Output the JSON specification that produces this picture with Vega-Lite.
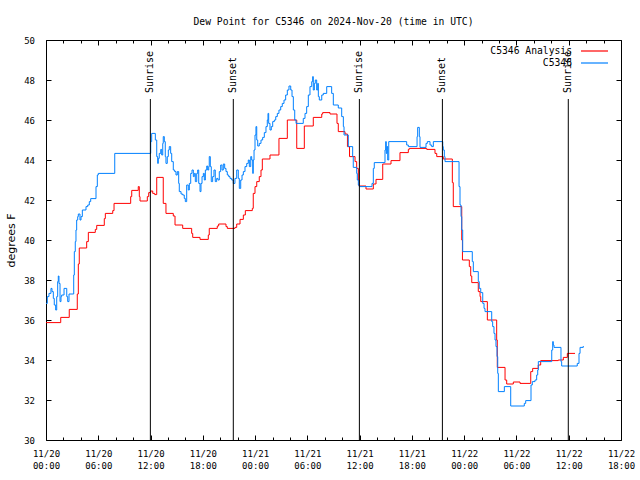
{
"$schema": "https://vega.github.io/schema/vega-lite/v6.json",
"width": 575, "height": 400,
"autosize": {"type": "none"},
"padding": {"left": 46, "top": 40, "right": 19, "bottom": 40},
"background": "white",
"title": {"text": "Dew Point for C5346 on 2024-Nov-20 (time in UTC)", "font": "DejaVu Sans Mono", "fontSize": 9.7, "fontWeight": "normal", "color": "black", "anchor": "middle", "frame": "group", "baseline": "alphabetic", "offset": 1},
"config": {
  "view": {"stroke": "black", "strokeWidth": 1},
  "axis": {"grid": false, "domain": false, "tickColor": "black", "labelColor": "black", "labelFont": "DejaVu Sans Mono", "labelFontSize": 9, "tickWidth": 1}
},
"datasets": {
"analysis": [
{"hour":0,"dewpoint":35.87,"series":"C5346 Analysis"},{"hour":1.69,"dewpoint":36.13,"series":"C5346 Analysis"},{"hour":2.67,"dewpoint":36.53,"series":"C5346 Analysis"},{"hour":3.59,"dewpoint":37.3,"series":"C5346 Analysis"},{"hour":3.71,"dewpoint":38.8,"series":"C5346 Analysis"},{"hour":3.82,"dewpoint":39.6,"series":"C5346 Analysis"},{"hour":4.67,"dewpoint":39.92,"series":"C5346 Analysis"},{"hour":4.86,"dewpoint":40.38,"series":"C5346 Analysis"},{"hour":5.66,"dewpoint":40.53,"series":"C5346 Analysis"},{"hour":5.82,"dewpoint":40.73,"series":"C5346 Analysis"},{"hour":6.69,"dewpoint":41.07,"series":"C5346 Analysis"},{"hour":6.81,"dewpoint":41.33,"series":"C5346 Analysis"},{"hour":7.66,"dewpoint":41.47,"series":"C5346 Analysis"},{"hour":7.81,"dewpoint":41.83,"series":"C5346 Analysis"},{"hour":9.72,"dewpoint":42.17,"series":"C5346 Analysis"},{"hour":9.84,"dewpoint":42.48,"series":"C5346 Analysis"},{"hour":10.59,"dewpoint":42.67,"series":"C5346 Analysis"},{"hour":10.71,"dewpoint":42.17,"series":"C5346 Analysis"},{"hour":10.79,"dewpoint":41.95,"series":"C5346 Analysis"},{"hour":11.63,"dewpoint":42.17,"series":"C5346 Analysis"},{"hour":11.79,"dewpoint":42.37,"series":"C5346 Analysis"},{"hour":12.02,"dewpoint":42.45,"series":"C5346 Analysis"},{"hour":12.25,"dewpoint":42.33,"series":"C5346 Analysis"},{"hour":12.48,"dewpoint":42.27,"series":"C5346 Analysis"},{"hour":12.71,"dewpoint":43.13,"series":"C5346 Analysis"},{"hour":13.46,"dewpoint":41.83,"series":"C5346 Analysis"},{"hour":13.77,"dewpoint":41.33,"series":"C5346 Analysis"},{"hour":14.61,"dewpoint":41.2,"series":"C5346 Analysis"},{"hour":14.81,"dewpoint":40.75,"series":"C5346 Analysis"},{"hour":15.69,"dewpoint":40.58,"series":"C5346 Analysis"},{"hour":16.72,"dewpoint":40.33,"series":"C5346 Analysis"},{"hour":16.84,"dewpoint":40.13,"series":"C5346 Analysis"},{"hour":17.68,"dewpoint":40.03,"series":"C5346 Analysis"},{"hour":18.63,"dewpoint":40.25,"series":"C5346 Analysis"},{"hour":18.74,"dewpoint":40.58,"series":"C5346 Analysis"},{"hour":19.66,"dewpoint":40.7,"series":"C5346 Analysis"},{"hour":19.82,"dewpoint":40.8,"series":"C5346 Analysis"},{"hour":20.66,"dewpoint":40.67,"series":"C5346 Analysis"},{"hour":20.81,"dewpoint":40.58,"series":"C5346 Analysis"},{"hour":21.69,"dewpoint":40.63,"series":"C5346 Analysis"},{"hour":21.89,"dewpoint":40.8,"series":"C5346 Analysis"},{"hour":22.27,"dewpoint":41.03,"series":"C5346 Analysis"},{"hour":22.65,"dewpoint":41.25,"series":"C5346 Analysis"},{"hour":22.88,"dewpoint":41.47,"series":"C5346 Analysis"},{"hour":23.68,"dewpoint":41.58,"series":"C5346 Analysis"},{"hour":23.79,"dewpoint":42.33,"series":"C5346 Analysis"},{"hour":23.99,"dewpoint":42.67,"series":"C5346 Analysis"},{"hour":24.19,"dewpoint":42.92,"series":"C5346 Analysis"},{"hour":24.48,"dewpoint":43.17,"series":"C5346 Analysis"},{"hour":24.68,"dewpoint":43.5,"series":"C5346 Analysis"},{"hour":24.83,"dewpoint":44.05,"series":"C5346 Analysis"},{"hour":25.71,"dewpoint":44.25,"series":"C5346 Analysis"},{"hour":26.74,"dewpoint":45.08,"series":"C5346 Analysis"},{"hour":27.7,"dewpoint":46.0,"series":"C5346 Analysis"},{"hour":28.78,"dewpoint":44.58,"series":"C5346 Analysis"},{"hour":29.65,"dewpoint":45.7,"series":"C5346 Analysis"},{"hour":30.68,"dewpoint":46.13,"series":"C5346 Analysis"},{"hour":31.65,"dewpoint":46.3,"series":"C5346 Analysis"},{"hour":31.76,"dewpoint":46.37,"series":"C5346 Analysis"},{"hour":32.6,"dewpoint":46.3,"series":"C5346 Analysis"},{"hour":33.4,"dewpoint":45.83,"series":"C5346 Analysis"},{"hour":33.55,"dewpoint":45.42,"series":"C5346 Analysis"},{"hour":34.32,"dewpoint":45.3,"series":"C5346 Analysis"},{"hour":34.6,"dewpoint":44.67,"series":"C5346 Analysis"},{"hour":34.84,"dewpoint":44.17,"series":"C5346 Analysis"},{"hour":35.47,"dewpoint":43.92,"series":"C5346 Analysis"},{"hour":35.66,"dewpoint":43.58,"series":"C5346 Analysis"},{"hour":35.85,"dewpoint":43.0,"series":"C5346 Analysis"},{"hour":35.93,"dewpoint":42.7,"series":"C5346 Analysis"},{"hour":36.73,"dewpoint":42.55,"series":"C5346 Analysis"},{"hour":37.57,"dewpoint":42.8,"series":"C5346 Analysis"},{"hour":37.88,"dewpoint":43.03,"series":"C5346 Analysis"},{"hour":38.65,"dewpoint":43.8,"series":"C5346 Analysis"},{"hour":39.6,"dewpoint":43.97,"series":"C5346 Analysis"},{"hour":40.63,"dewpoint":44.37,"series":"C5346 Analysis"},{"hour":41.59,"dewpoint":44.53,"series":"C5346 Analysis"},{"hour":41.7,"dewpoint":44.58,"series":"C5346 Analysis"},{"hour":43.7,"dewpoint":44.53,"series":"C5346 Analysis"},{"hour":44.65,"dewpoint":44.33,"series":"C5346 Analysis"},{"hour":44.85,"dewpoint":44.17,"series":"C5346 Analysis"},{"hour":45.6,"dewpoint":44.05,"series":"C5346 Analysis"},{"hour":46.64,"dewpoint":42.87,"series":"C5346 Analysis"},{"hour":46.75,"dewpoint":41.67,"series":"C5346 Analysis"},{"hour":47.72,"dewpoint":40.0,"series":"C5346 Analysis"},{"hour":47.8,"dewpoint":39.0,"series":"C5346 Analysis"},{"hour":48.59,"dewpoint":38.67,"series":"C5346 Analysis"},{"hour":48.75,"dewpoint":38.2,"series":"C5346 Analysis"},{"hour":48.87,"dewpoint":37.87,"series":"C5346 Analysis"},{"hour":49.62,"dewpoint":37.42,"series":"C5346 Analysis"},{"hour":49.82,"dewpoint":37.17,"series":"C5346 Analysis"},{"hour":49.9,"dewpoint":36.92,"series":"C5346 Analysis"},{"hour":50.66,"dewpoint":36.0,"series":"C5346 Analysis"},{"hour":51.73,"dewpoint":35.0,"series":"C5346 Analysis"},{"hour":51.8,"dewpoint":33.63,"series":"C5346 Analysis"},{"hour":52.69,"dewpoint":33.0,"series":"C5346 Analysis"},{"hour":52.88,"dewpoint":32.8,"series":"C5346 Analysis"},{"hour":53.64,"dewpoint":32.9,"series":"C5346 Analysis"},{"hour":54.41,"dewpoint":32.83,"series":"C5346 Analysis"},{"hour":55.64,"dewpoint":33.42,"series":"C5346 Analysis"},{"hour":55.86,"dewpoint":33.58,"series":"C5346 Analysis"},{"hour":56.5,"dewpoint":33.75,"series":"C5346 Analysis"},{"hour":56.78,"dewpoint":33.97,"series":"C5346 Analysis"},{"hour":58.8,"dewpoint":34.0,"series":"C5346 Analysis"},{"hour":59.38,"dewpoint":34.13,"series":"C5346 Analysis"},{"hour":59.84,"dewpoint":34.33,"series":"C5346 Analysis"},{"hour":60.72,"dewpoint":34.33,"series":"C5346 Analysis"}
],
"obs": [
{"hour":0,"dewpoint":36.83,"series":"C5346"},{"hour":0.15,"dewpoint":37.17,"series":"C5346"},{"hour":0.34,"dewpoint":37.33,"series":"C5346"},{"hour":0.57,"dewpoint":37.58,"series":"C5346"},{"hour":0.69,"dewpoint":37.42,"series":"C5346"},{"hour":0.84,"dewpoint":37.08,"series":"C5346"},{"hour":0.95,"dewpoint":36.75,"series":"C5346"},{"hour":1.11,"dewpoint":36.5,"series":"C5346"},{"hour":1.23,"dewpoint":37.17,"series":"C5346"},{"hour":1.34,"dewpoint":37.92,"series":"C5346"},{"hour":1.41,"dewpoint":38.2,"series":"C5346"},{"hour":1.49,"dewpoint":37.83,"series":"C5346"},{"hour":1.61,"dewpoint":36.92,"series":"C5346"},{"hour":1.72,"dewpoint":37.17,"series":"C5346"},{"hour":1.8,"dewpoint":37.25,"series":"C5346"},{"hour":2.07,"dewpoint":37.58,"series":"C5346"},{"hour":2.38,"dewpoint":37.17,"series":"C5346"},{"hour":2.49,"dewpoint":36.92,"series":"C5346"},{"hour":2.64,"dewpoint":37.3,"series":"C5346"},{"hour":3.18,"dewpoint":38.25,"series":"C5346"},{"hour":3.25,"dewpoint":39.42,"series":"C5346"},{"hour":3.36,"dewpoint":39.92,"series":"C5346"},{"hour":3.44,"dewpoint":40.5,"series":"C5346"},{"hour":3.52,"dewpoint":41.0,"series":"C5346"},{"hour":3.64,"dewpoint":41.17,"series":"C5346"},{"hour":3.71,"dewpoint":41.3,"series":"C5346"},{"hour":3.9,"dewpoint":41.0,"series":"C5346"},{"hour":4.02,"dewpoint":41.17,"series":"C5346"},{"hour":4.17,"dewpoint":41.5,"series":"C5346"},{"hour":4.59,"dewpoint":41.67,"series":"C5346"},{"hour":4.79,"dewpoint":41.75,"series":"C5346"},{"hour":4.97,"dewpoint":41.92,"series":"C5346"},{"hour":5.13,"dewpoint":42.07,"series":"C5346"},{"hour":5.74,"dewpoint":42.67,"series":"C5346"},{"hour":5.89,"dewpoint":43.25,"series":"C5346"},{"hour":6.0,"dewpoint":43.33,"series":"C5346"},{"hour":7.89,"dewpoint":44.33,"series":"C5346"},{"hour":12.02,"dewpoint":44.92,"series":"C5346"},{"hour":12.13,"dewpoint":45.33,"series":"C5346"},{"hour":12.55,"dewpoint":45.0,"series":"C5346"},{"hour":12.71,"dewpoint":44.17,"series":"C5346"},{"hour":12.82,"dewpoint":43.83,"series":"C5346"},{"hour":12.89,"dewpoint":44.08,"series":"C5346"},{"hour":13.0,"dewpoint":44.33,"series":"C5346"},{"hour":13.17,"dewpoint":44.53,"series":"C5346"},{"hour":13.28,"dewpoint":44.25,"series":"C5346"},{"hour":13.4,"dewpoint":44.83,"series":"C5346"},{"hour":13.46,"dewpoint":45.17,"series":"C5346"},{"hour":13.58,"dewpoint":44.92,"series":"C5346"},{"hour":13.69,"dewpoint":44.17,"series":"C5346"},{"hour":13.77,"dewpoint":43.83,"series":"C5346"},{"hour":13.92,"dewpoint":44.17,"series":"C5346"},{"hour":14.04,"dewpoint":44.5,"series":"C5346"},{"hour":14.15,"dewpoint":44.67,"series":"C5346"},{"hour":14.31,"dewpoint":44.33,"series":"C5346"},{"hour":14.43,"dewpoint":43.92,"series":"C5346"},{"hour":14.61,"dewpoint":43.5,"series":"C5346"},{"hour":14.77,"dewpoint":43.42,"series":"C5346"},{"hour":14.92,"dewpoint":43.25,"series":"C5346"},{"hour":15.07,"dewpoint":43.42,"series":"C5346"},{"hour":15.23,"dewpoint":42.83,"series":"C5346"},{"hour":15.3,"dewpoint":42.42,"series":"C5346"},{"hour":15.5,"dewpoint":42.3,"series":"C5346"},{"hour":15.69,"dewpoint":42.25,"series":"C5346"},{"hour":15.87,"dewpoint":42.08,"series":"C5346"},{"hour":15.99,"dewpoint":41.92,"series":"C5346"},{"hour":16.15,"dewpoint":42.75,"series":"C5346"},{"hour":16.33,"dewpoint":42.5,"series":"C5346"},{"hour":16.45,"dewpoint":42.83,"series":"C5346"},{"hour":16.61,"dewpoint":43.33,"series":"C5346"},{"hour":16.76,"dewpoint":43.5,"series":"C5346"},{"hour":16.91,"dewpoint":43.17,"series":"C5346"},{"hour":17.02,"dewpoint":43.33,"series":"C5346"},{"hour":17.14,"dewpoint":42.92,"series":"C5346"},{"hour":17.3,"dewpoint":43.33,"series":"C5346"},{"hour":17.41,"dewpoint":43.5,"series":"C5346"},{"hour":17.53,"dewpoint":42.83,"series":"C5346"},{"hour":17.68,"dewpoint":42.42,"series":"C5346"},{"hour":17.79,"dewpoint":42.83,"series":"C5346"},{"hour":17.91,"dewpoint":43.17,"series":"C5346"},{"hour":18.06,"dewpoint":43.33,"series":"C5346"},{"hour":18.17,"dewpoint":43.0,"series":"C5346"},{"hour":18.29,"dewpoint":43.5,"series":"C5346"},{"hour":18.45,"dewpoint":43.7,"series":"C5346"},{"hour":18.56,"dewpoint":43.5,"series":"C5346"},{"hour":18.68,"dewpoint":43.67,"series":"C5346"},{"hour":18.74,"dewpoint":44.17,"series":"C5346"},{"hour":18.86,"dewpoint":43.67,"series":"C5346"},{"hour":18.97,"dewpoint":42.92,"series":"C5346"},{"hour":19.13,"dewpoint":43.17,"series":"C5346"},{"hour":19.28,"dewpoint":43.5,"series":"C5346"},{"hour":19.43,"dewpoint":42.92,"series":"C5346"},{"hour":19.59,"dewpoint":43.08,"series":"C5346"},{"hour":19.74,"dewpoint":43.0,"series":"C5346"},{"hour":19.89,"dewpoint":43.42,"series":"C5346"},{"hour":20.05,"dewpoint":43.75,"series":"C5346"},{"hour":20.2,"dewpoint":43.5,"series":"C5346"},{"hour":20.35,"dewpoint":43.8,"series":"C5346"},{"hour":20.51,"dewpoint":43.58,"series":"C5346"},{"hour":20.66,"dewpoint":43.42,"series":"C5346"},{"hour":20.81,"dewpoint":43.25,"series":"C5346"},{"hour":20.97,"dewpoint":43.17,"series":"C5346"},{"hour":21.12,"dewpoint":43.08,"series":"C5346"},{"hour":21.32,"dewpoint":43.0,"series":"C5346"},{"hour":21.5,"dewpoint":42.83,"series":"C5346"},{"hour":21.69,"dewpoint":43.08,"series":"C5346"},{"hour":21.89,"dewpoint":43.5,"series":"C5346"},{"hour":22.07,"dewpoint":43.08,"series":"C5346"},{"hour":22.19,"dewpoint":42.58,"series":"C5346"},{"hour":22.35,"dewpoint":43.0,"series":"C5346"},{"hour":22.5,"dewpoint":43.25,"series":"C5346"},{"hour":22.65,"dewpoint":43.42,"series":"C5346"},{"hour":22.84,"dewpoint":43.67,"series":"C5346"},{"hour":23.04,"dewpoint":43.83,"series":"C5346"},{"hour":23.22,"dewpoint":44.0,"series":"C5346"},{"hour":23.34,"dewpoint":43.67,"series":"C5346"},{"hour":23.5,"dewpoint":44.17,"series":"C5346"},{"hour":23.61,"dewpoint":44.0,"series":"C5346"},{"hour":23.73,"dewpoint":43.33,"series":"C5346"},{"hour":23.79,"dewpoint":44.0,"series":"C5346"},{"hour":23.88,"dewpoint":44.5,"series":"C5346"},{"hour":23.99,"dewpoint":45.25,"series":"C5346"},{"hour":24.1,"dewpoint":45.67,"series":"C5346"},{"hour":24.19,"dewpoint":45.0,"series":"C5346"},{"hour":24.3,"dewpoint":44.7,"series":"C5346"},{"hour":24.48,"dewpoint":44.83,"series":"C5346"},{"hour":24.68,"dewpoint":45.0,"series":"C5346"},{"hour":24.87,"dewpoint":45.13,"series":"C5346"},{"hour":25.06,"dewpoint":45.37,"series":"C5346"},{"hour":25.25,"dewpoint":45.67,"series":"C5346"},{"hour":25.4,"dewpoint":46.0,"series":"C5346"},{"hour":25.48,"dewpoint":46.33,"series":"C5346"},{"hour":25.56,"dewpoint":45.83,"series":"C5346"},{"hour":25.71,"dewpoint":45.5,"series":"C5346"},{"hour":25.86,"dewpoint":45.67,"series":"C5346"},{"hour":26.02,"dewpoint":45.92,"series":"C5346"},{"hour":26.21,"dewpoint":46.0,"series":"C5346"},{"hour":26.37,"dewpoint":46.17,"series":"C5346"},{"hour":26.55,"dewpoint":46.33,"series":"C5346"},{"hour":26.74,"dewpoint":46.5,"series":"C5346"},{"hour":26.94,"dewpoint":46.67,"series":"C5346"},{"hour":27.12,"dewpoint":46.83,"series":"C5346"},{"hour":27.32,"dewpoint":47.0,"series":"C5346"},{"hour":27.51,"dewpoint":47.25,"series":"C5346"},{"hour":27.7,"dewpoint":47.5,"series":"C5346"},{"hour":27.89,"dewpoint":47.7,"series":"C5346"},{"hour":28.09,"dewpoint":47.5,"series":"C5346"},{"hour":28.24,"dewpoint":47.17,"series":"C5346"},{"hour":28.39,"dewpoint":46.5,"series":"C5346"},{"hour":28.55,"dewpoint":46.0,"series":"C5346"},{"hour":28.7,"dewpoint":45.83,"series":"C5346"},{"hour":29.53,"dewpoint":46.08,"series":"C5346"},{"hour":29.73,"dewpoint":46.33,"series":"C5346"},{"hour":29.92,"dewpoint":46.67,"series":"C5346"},{"hour":30.11,"dewpoint":47.25,"series":"C5346"},{"hour":30.3,"dewpoint":47.67,"series":"C5346"},{"hour":30.5,"dewpoint":47.92,"series":"C5346"},{"hour":30.61,"dewpoint":48.17,"series":"C5346"},{"hour":30.68,"dewpoint":47.5,"series":"C5346"},{"hour":30.8,"dewpoint":47.83,"series":"C5346"},{"hour":30.91,"dewpoint":48.0,"series":"C5346"},{"hour":31.07,"dewpoint":47.5,"series":"C5346"},{"hour":31.19,"dewpoint":47.83,"series":"C5346"},{"hour":31.26,"dewpoint":47.17,"series":"C5346"},{"hour":31.37,"dewpoint":47.0,"series":"C5346"},{"hour":31.65,"dewpoint":47.25,"series":"C5346"},{"hour":31.83,"dewpoint":47.33,"series":"C5346"},{"hour":32.22,"dewpoint":47.67,"series":"C5346"},{"hour":32.79,"dewpoint":47.33,"series":"C5346"},{"hour":32.98,"dewpoint":46.75,"series":"C5346"},{"hour":33.55,"dewpoint":46.6,"series":"C5346"},{"hour":33.94,"dewpoint":46.17,"series":"C5346"},{"hour":34.13,"dewpoint":45.67,"series":"C5346"},{"hour":34.21,"dewpoint":45.25,"series":"C5346"},{"hour":34.7,"dewpoint":44.67,"series":"C5346"},{"hour":35.2,"dewpoint":44.17,"series":"C5346"},{"hour":35.27,"dewpoint":43.63,"series":"C5346"},{"hour":35.66,"dewpoint":43.33,"series":"C5346"},{"hour":35.73,"dewpoint":43.0,"series":"C5346"},{"hour":35.85,"dewpoint":42.75,"series":"C5346"},{"hour":35.96,"dewpoint":42.67,"series":"C5346"},{"hour":37.42,"dewpoint":42.83,"series":"C5346"},{"hour":37.57,"dewpoint":43.58,"series":"C5346"},{"hour":37.68,"dewpoint":43.87,"series":"C5346"},{"hour":38.91,"dewpoint":44.5,"series":"C5346"},{"hour":38.99,"dewpoint":44.92,"series":"C5346"},{"hour":39.06,"dewpoint":44.33,"series":"C5346"},{"hour":39.14,"dewpoint":44.67,"series":"C5346"},{"hour":39.22,"dewpoint":44.0,"series":"C5346"},{"hour":39.34,"dewpoint":44.92,"series":"C5346"},{"hour":41.4,"dewpoint":44.75,"series":"C5346"},{"hour":41.59,"dewpoint":44.67,"series":"C5346"},{"hour":42.59,"dewpoint":45.17,"series":"C5346"},{"hour":42.66,"dewpoint":45.63,"series":"C5346"},{"hour":42.85,"dewpoint":45.17,"series":"C5346"},{"hour":42.93,"dewpoint":44.63,"series":"C5346"},{"hour":43.62,"dewpoint":44.83,"series":"C5346"},{"hour":43.77,"dewpoint":44.92,"series":"C5346"},{"hour":44.08,"dewpoint":44.75,"series":"C5346"},{"hour":44.27,"dewpoint":44.67,"series":"C5346"},{"hour":44.46,"dewpoint":44.92,"series":"C5346"},{"hour":45.54,"dewpoint":44.67,"series":"C5346"},{"hour":45.6,"dewpoint":44.5,"series":"C5346"},{"hour":45.72,"dewpoint":44.17,"series":"C5346"},{"hour":45.8,"dewpoint":43.92,"series":"C5346"},{"hour":47.41,"dewpoint":42.67,"series":"C5346"},{"hour":47.52,"dewpoint":41.75,"series":"C5346"},{"hour":47.64,"dewpoint":41.17,"series":"C5346"},{"hour":47.72,"dewpoint":40.5,"series":"C5346"},{"hour":47.83,"dewpoint":39.42,"series":"C5346"},{"hour":48.93,"dewpoint":38.92,"series":"C5346"},{"hour":49.05,"dewpoint":38.42,"series":"C5346"},{"hour":49.62,"dewpoint":37.92,"series":"C5346"},{"hour":49.73,"dewpoint":37.58,"series":"C5346"},{"hour":49.9,"dewpoint":37.37,"series":"C5346"},{"hour":50.13,"dewpoint":36.83,"series":"C5346"},{"hour":50.28,"dewpoint":36.58,"series":"C5346"},{"hour":50.39,"dewpoint":36.42,"series":"C5346"},{"hour":51.16,"dewpoint":35.92,"series":"C5346"},{"hour":51.27,"dewpoint":35.67,"series":"C5346"},{"hour":51.42,"dewpoint":35.33,"series":"C5346"},{"hour":51.54,"dewpoint":35.0,"series":"C5346"},{"hour":51.65,"dewpoint":34.67,"series":"C5346"},{"hour":51.77,"dewpoint":34.17,"series":"C5346"},{"hour":51.85,"dewpoint":33.33,"series":"C5346"},{"hour":51.92,"dewpoint":32.42,"series":"C5346"},{"hour":52.61,"dewpoint":32.67,"series":"C5346"},{"hour":53.34,"dewpoint":31.7,"series":"C5346"},{"hour":54.9,"dewpoint":31.83,"series":"C5346"},{"hour":55.06,"dewpoint":31.97,"series":"C5346"},{"hour":55.67,"dewpoint":32.75,"series":"C5346"},{"hour":55.82,"dewpoint":32.92,"series":"C5346"},{"hour":56.13,"dewpoint":33.0,"series":"C5346"},{"hour":56.32,"dewpoint":33.25,"series":"C5346"},{"hour":56.44,"dewpoint":33.5,"series":"C5346"},{"hour":56.51,"dewpoint":33.92,"series":"C5346"},{"hour":58.05,"dewpoint":34.5,"series":"C5346"},{"hour":58.16,"dewpoint":34.92,"series":"C5346"},{"hour":58.23,"dewpoint":34.75,"series":"C5346"},{"hour":58.31,"dewpoint":34.63,"series":"C5346"},{"hour":59.11,"dewpoint":33.92,"series":"C5346"},{"hour":59.19,"dewpoint":33.7,"series":"C5346"},{"hour":60.98,"dewpoint":33.83,"series":"C5346"},{"hour":61.18,"dewpoint":34.33,"series":"C5346"},{"hour":61.3,"dewpoint":34.63,"series":"C5346"},{"hour":61.67,"dewpoint":34.7,"series":"C5346"}
],
"sun": [
{"hour":11.98,"event":"Sunrise"},{"hour":21.5,"event":"Sunset"},{"hour":35.97,"event":"Sunrise"},{"hour":45.5,"event":"Sunset"},{"hour":59.95,"event":"Sunrise"}
]
},
"resolve": {"axis": {"x": "independent", "y": "independent"}},
"layer": [
{
 "data": {"name": "analysis"},
 "mark": {"type": "line", "interpolate": "step-after", "strokeWidth": 1, "clip": true},
 "encoding": {
  "x": {"field": "hour", "type": "quantitative", "scale": {"domain": [0, 66], "nice": false, "zero": false},
        "axis": {"orient": "bottom", "values": [0,6,12,18,24,30,36,42,48,54,60,66], "tickSize": -5, "labelPadding": 14.5, "labelBaseline": "top", "labelLineHeight": 12, "labelFlush": false, "labelOverlap": false, "title": null,
                 "labelExpr": "[datum.value < 24 ? '11/20' : (datum.value < 48 ? '11/21' : '11/22'), ((datum.value % 24) < 10 ? '0' : '') + (datum.value % 24) + ':00']"}},
  "y": {"field": "dewpoint", "type": "quantitative", "scale": {"domain": [30, 50], "nice": false, "zero": false},
        "axis": {"orient": "left", "values": [30,32,34,36,38,40,42,44,46,48,50], "tickSize": -5, "labelPadding": 16.5, "labelFlush": false, "labelOverlap": false,
                 "title": "degrees F", "titleFont": "DejaVu Sans", "titleFontSize": 11, "titleFontWeight": "normal", "titleColor": "black", "titlePadding": 7}},
  "color": {"field": "series", "type": "nominal", "scale": {"domain": ["C5346 Analysis", "C5346"], "range": ["#ff0000", "#0080ff"]},
            "legend": {"orient": "none", "legendX": 542.5, "legendY": 5, "title": null, "symbolType": "M-2.7,0H2.7", "symbolSize": 100, "symbolStrokeWidth": 1.2, "labelAlign": "right", "labelOffset": -28.5, "labelFont": "DejaVu Sans Mono", "labelFontSize": 9.7, "labelColor": "black", "padding": 0, "rowPadding": 1}}
 }
},
{
 "data": {"name": "obs"},
 "mark": {"type": "line", "interpolate": "step-after", "strokeWidth": 1, "clip": true},
 "encoding": {
  "x": {"field": "hour", "type": "quantitative", "scale": {"domain": [0, 66], "nice": false, "zero": false},
        "axis": {"orient": "top", "values": [0,6,12,18,24,30,36,42,48,54,60,66], "tickSize": -5, "labels": false, "title": null}},
  "y": {"field": "dewpoint", "type": "quantitative", "scale": {"domain": [30, 50], "nice": false, "zero": false},
        "axis": {"orient": "right", "values": [30,32,34,36,38,40,42,44,46,48,50], "tickSize": -5, "labels": false, "title": null}},
  "color": {"field": "series", "type": "nominal", "scale": {"domain": ["C5346 Analysis", "C5346"], "range": ["#ff0000", "#0080ff"]},
            "legend": {"orient": "none", "legendX": 542.5, "legendY": 5, "title": null, "symbolType": "M-2.7,0H2.7", "symbolSize": 100, "symbolStrokeWidth": 1.2, "labelAlign": "right", "labelOffset": -28.5, "labelFont": "DejaVu Sans Mono", "labelFontSize": 9.7, "labelColor": "black", "padding": 0, "rowPadding": 1}}
 }
},
{
 "data": {"name": "sun"},
 "mark": {"type": "rule", "color": "black", "strokeWidth": 1},
 "encoding": {
  "x": {"field": "hour", "type": "quantitative", "scale": {"domain": [0, 66], "nice": false, "zero": false},
        "axis": {"orient": "bottom", "values": [2,4,8,10,14,16,20,22,26,28,32,34,38,40,44,46,50,52,56,58,62,64], "tickSize": -3, "labels": false, "title": null}},
  "y": {"datum": 30, "type": "quantitative", "scale": {"domain": [30, 50], "nice": false, "zero": false}, "axis": null},
  "y2": {"datum": 47.05}
 }
},
{
 "data": {"name": "sun"},
 "mark": {"type": "text", "angle": 270, "align": "left", "baseline": "middle", "font": "DejaVu Sans Mono", "fontSize": 10, "color": "black"},
 "encoding": {
  "x": {"field": "hour", "type": "quantitative", "scale": {"domain": [0, 66], "nice": false, "zero": false},
        "axis": {"orient": "top", "values": [2,4,8,10,14,16,20,22,26,28,32,34,38,40,44,46,50,52,56,58,62,64], "tickSize": -3, "labels": false, "title": null}},
  "y": {"datum": 47.35, "type": "quantitative", "scale": {"domain": [30, 50], "nice": false, "zero": false}, "axis": null},
  "text": {"field": "event"}
 }
}
]
}
